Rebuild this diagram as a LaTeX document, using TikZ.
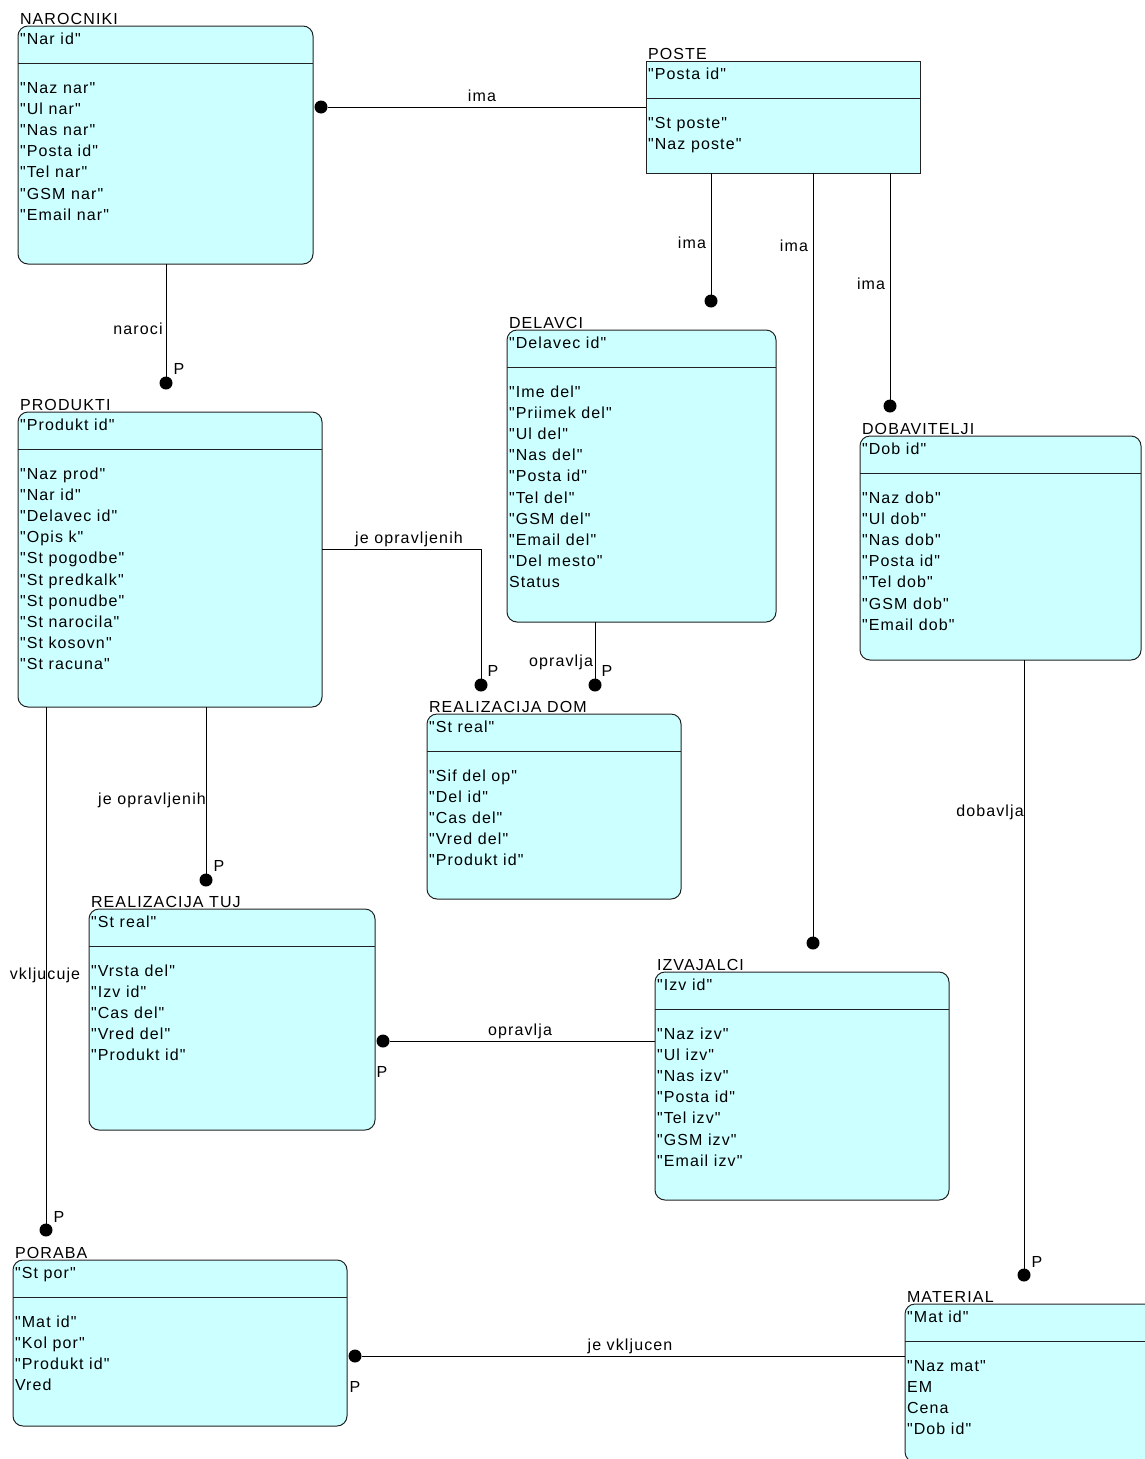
\documentclass[tikz,border=0pt]{standalone}
\usepackage{fontspec}
\newfontfamily\entfont{Liberation Sans}[LetterSpace=7]
\usetikzlibrary{calc}
\definecolor{entfill}{HTML}{CCFFFF}
\definecolor{entdraw}{HTML}{222222}
\tikzset{
  entbox/.style={draw=entdraw, fill=entfill, line width=1pt, rounded corners=10pt, inner sep=0pt, outer sep=0pt},
  sharpbox/.style={sharp corners},
  entline/.style={draw=entdraw, line width=1pt},
  txt/.style={inner sep=0pt, outer sep=0pt, font=\entfont\fontsize{16}{18}\selectfont},
  conn/.style={draw=black, line width=1pt},
  dot/.style={circle, fill=black, inner sep=0pt, outer sep=0pt, minimum size=13pt},
}
% [style]{name}{x}{y}{w}{h}{label}{key}{attributes}
\newcommand{\drawent}[9][]{%
  \node[entbox,#1,minimum width=#5pt,minimum height=#6pt,anchor=north west] (#2) at (#3,#4) {};
  \node[txt,anchor=base west] (#2-lbl) at ($(#2.north west)+(2,-2)$) {#7};
  \node[txt,anchor=base west] (#2-key) at ($(#2.north west)+(2,18)$) {#8};
  \draw[entline] ($(#2.north west)+(0,37.5)$) -- ($(#2.north east)+(0,37.5)$);
  \foreach \a [count=\i from 0] in {#9} {
    \node[txt,anchor=base west] (#2-a\i) at ($(#2.north west)+(2,{67.5+21.1*\i})$) {\a};
  }
}
\begin{document}
\begin{tikzpicture}[x=1pt,y=-1pt]
\useasboundingbox (0,0) rectangle (1145,1459);
\clip (0,0) rectangle (1145,1459);

\drawent{naroc}{18}{26}{295}{238}{NAROCNIKI}{"Nar id"}{"Naz nar","Ul nar","Nas nar","Posta id","Tel nar","GSM nar","Email nar"}
\drawent[sharpbox]{poste}{646}{61}{274}{112}{POSTE}{"Posta id"}{"St poste","Naz poste"}
\drawent{prod}{18}{412}{304}{295}{PRODUKTI}{"Produkt id"}{"Naz prod","Nar id","Delavec id","Opis k","St pogodbe","St predkalk","St ponudbe","St narocila","St kosovn","St racuna"}
\drawent{delav}{507}{330}{269}{292}{DELAVCI}{"Delavec id"}{"Ime del","Priimek del","Ul del","Nas del","Posta id","Tel del","GSM del","Email del","Del mesto",Status}
\drawent{dobav}{860}{436}{281}{224}{DOBAVITELJI}{"Dob id"}{"Naz dob","Ul dob","Nas dob","Posta id","Tel dob","GSM dob","Email dob"}
\drawent{rdom}{427}{714}{254}{185}{REALIZACIJA DOM}{"St real"}{"Sif del op","Del id","Cas del","Vred del","Produkt id"}
\drawent{rtuj}{89}{909}{286}{221}{REALIZACIJA TUJ}{"St real"}{"Vrsta del","Izv id","Cas del","Vred del","Produkt id"}
\drawent{izvaj}{655}{972}{294}{228}{IZVAJALCI}{"Izv id"}{"Naz izv","Ul izv","Nas izv","Posta id","Tel izv","GSM izv","Email izv"}
\drawent{poraba}{13}{1260}{334}{166}{PORABA}{"St por"}{"Mat id","Kol por","Produkt id",Vred}
\drawent{mater}{905}{1304}{262}{158}{MATERIAL}{"Mat id"}{"Naz mat",EM,Cena,"Dob id"}

% dots
\node[dot] (d1) at (321,107) {};
\node[dot] (d2) at (166,383) {};
\node[dot] (d3) at (711,301) {};
\node[dot] (d4) at (813,943) {};
\node[dot] (d5) at (890,406) {};
\node[dot] (d6) at (481,685) {};
\node[dot] (d7) at (595,685) {};
\node[dot] (d8) at (206,880) {};
\node[dot] (d9) at (46,1230) {};
\node[dot] (d10) at (383,1041) {};
\node[dot] (d11) at (1024,1275) {};
\node[dot] (d12) at (355,1356) {};
\coordinate (c6) at (481,549);

% connectors
\draw[conn] (d1) -- (poste.west |- d1);
\draw[conn] (naroc.south -| d2) -- (d2);
\draw[conn] (poste.south -| d3) -- (d3);
\draw[conn] (poste.south -| d4) -- (d4);
\draw[conn] (poste.south -| d5) -- (d5);
\draw[conn] (prod.east |- c6) -- (c6) -- (d6);
\draw[conn] (delav.south -| d7) -- (d7);
\draw[conn] (prod.south -| d8) -- (d8);
\draw[conn] (prod.south -| d9) -- (d9);
\draw[conn] (d10) -- (izvaj.west |- d10);
\draw[conn] (dobav.south -| d11) -- (d11);
\draw[conn] (d12) -- (mater.west |- d12);

% connector labels
\node[txt,anchor=base] (l1) at (482,101) {ima};
\node[txt,anchor=base] (l2) at (138,334) {naroci};
\node[txt,anchor=base] (l3) at (692,248) {ima};
\node[txt,anchor=base] (l4) at (794,251) {ima};
\node[txt,anchor=base] (l5) at (871,289) {ima};
\node[txt,anchor=base] (l6) at (409,543) {je opravljenih};
\node[txt,anchor=base] (l7) at (561,666) {opravlja};
\node[txt,anchor=base] (l8) at (152,804) {je opravljenih};
\node[txt,anchor=base] (l9) at (45,979) {vkljucuje};
\node[txt,anchor=base] (l10) at (520,1035) {opravlja};
\node[txt,anchor=base] (l11) at (990,816) {dobavlja};
\node[txt,anchor=base] (l12) at (630,1350) {je vkljucen};

% P labels
\node[txt,anchor=base] (p2) at (179,374) {P};
\node[txt,anchor=base] (p6) at (493,676) {P};
\node[txt,anchor=base] (p7) at (607,676) {P};
\node[txt,anchor=base] (p8) at (219,871) {P};
\node[txt,anchor=base] (p9) at (59,1222) {P};
\node[txt,anchor=base] (p10) at (382,1077) {P};
\node[txt,anchor=base] (p11) at (1037,1267) {P};
\node[txt,anchor=base] (p12) at (355,1392) {P};
\end{tikzpicture}
\end{document}
